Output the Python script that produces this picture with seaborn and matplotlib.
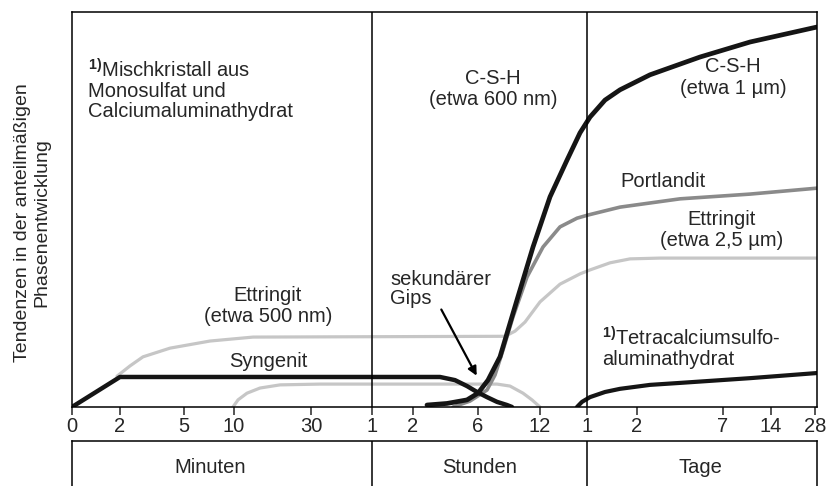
import matplotlib
matplotlib.use('Agg')
import matplotlib.pyplot as plt
import seaborn as sns

sns.set_style('white')
plt.rcParams['font.family'] = ['Liberation Sans', 'DejaVu Sans']
plt.rcParams['mathtext.fontset'] = 'custom'
plt.rcParams['mathtext.rm'] = 'Liberation Sans'
plt.rcParams['mathtext.bf'] = 'Liberation Sans:bold'

# x axis: position along the (piecewise log) time axis, y: relative amount
tick_pos = [0, 48, 112, 162, 239, 300, 341, 406, 468, 515, 565, 651, 699, 743]
tick_labels = ['0', '2', '5', '10', '30', '1', '2', '6', '12', '1', '2', '7', '14', '28']
dividers = [300, 515]
periods = ['Minuten', 'Stunden', 'Tage']
period_pos = [138, 408, 628]

syngenit_x = [0, 48, 368, 383, 395, 405, 415, 425, 435, 440]
syngenit_y = [0, 7.6, 7.6, 6.8, 5.3, 3.8, 2.5, 1.3, 0.5, 0]

ettringit_x = [45, 58, 71, 98, 138, 181, 433, 443, 453, 468, 488, 508, 518, 538, 558, 588, 745]
ettringit_y = [7.8, 10.4, 12.7, 14.9, 16.7, 17.7, 17.9, 19.2, 21.5, 26.6, 31.1, 33.7, 34.7, 36.5, 37.5, 37.7, 37.7]

mono_x = [161, 166, 175, 188, 208, 248, 425, 438, 451, 460, 468]
mono_y = [0, 1.8, 3.5, 4.8, 5.6, 5.8, 5.8, 5.3, 3.5, 1.8, 0]

csh_x = [355, 375, 395, 406, 416, 428, 445, 461, 478, 495, 508, 518, 533, 548, 578, 628, 678, 745]
csh_y = [0.5, 0.9, 1.8, 3.5, 6.8, 12.7, 27.1, 40.5, 53.2, 62.5, 69.4, 73.4, 77.7, 80.3, 84.1, 88.6, 92.4, 96.2]

portlandit_x = [381, 398, 415, 423, 431, 441, 455, 471, 488, 505, 516, 548, 608, 678, 745]
portlandit_y = [0, 1.5, 4.3, 8.1, 14.4, 22.8, 32.9, 40.5, 45.6, 47.8, 48.6, 50.6, 52.7, 53.9, 55.4]

tetra_x = [505, 510, 518, 533, 548, 578, 608, 678, 745]
tetra_y = [0, 1.3, 2.5, 3.8, 4.6, 5.6, 6.1, 7.3, 8.6]

fig = plt.figure(figsize=(8.27, 4.86), dpi=100)
ax = fig.add_axes([72 / 827, 79 / 486, 745 / 827, 395 / 486])

light = '#c6c6c6'
sns.lineplot(x=mono_x, y=mono_y, color=light, lw=2.3, ax=ax)
sns.lineplot(x=ettringit_x, y=ettringit_y, color=light, lw=2.3, ax=ax)
sns.lineplot(x=portlandit_x, y=portlandit_y, color='#8a8a8a', lw=2.6, ax=ax)
sns.lineplot(x=syngenit_x, y=syngenit_y, color='#151515', lw=3.2, ax=ax)
sns.lineplot(x=csh_x, y=csh_y, color='#151515', lw=3.4, ax=ax)
sns.lineplot(x=tetra_x, y=tetra_y, color='#151515', lw=3.0, ax=ax)

for d in dividers:
    ax.axvline(d, color='black', lw=1.1)

fs = 14.5
ax.set_xlim(0, 745)
ax.set_ylim(0, 100)
ax.set_xticks(tick_pos)
ax.set_xticklabels(tick_labels, fontsize=fs)
ax.set_yticks([])
ax.tick_params(axis='x', direction='out', length=6, width=1.1, pad=1.5, bottom=True)
for s in ax.spines.values():
    s.set_color('black')
    s.set_linewidth(1.1)
ax.set_ylabel('Tendenzen in der anteilmäßigen\nPhasenentwicklung', fontsize=14, linespacing=1.15)
ax.yaxis.set_label_coords(-0.029, 0.468)

sup = r'$^{\mathbf{1)}}$'
ax.text(16, 80.3, sup + 'Mischkristall aus\nMonosulfat und\nCalciumaluminathydrat',
        ha='left', va='center', fontsize=fs, linespacing=1.05)
ax.text(421, 80.5, 'C-S-H\n(etwa 600 nm)', ha='center', va='center', fontsize=fs, linespacing=1.15)
ax.text(661, 83.4, 'C-S-H\n(etwa 1 µm)', ha='center', va='center', fontsize=fs, linespacing=1.15)
ax.text(591, 57, 'Portlandit', ha='center', va='center', fontsize=fs)
ax.text(650, 44.8, 'Ettringit\n(etwa 2,5 µm)', ha='center', va='center', fontsize=fs, linespacing=1.15)
ax.text(530, 15.1, sup + 'Tetracalciumsulfo-\naluminathydrat', ha='left', va='center',
        fontsize=fs, linespacing=1.05)
ax.text(196, 25.6, 'Ettringit\n(etwa 500 nm)', ha='center', va='center', fontsize=fs, linespacing=1.1)
ax.text(196, 11.4, 'Syngenit', ha='center', va='center', fontsize=fs)
ax.text(318, 29.9, 'sekundärer\nGips', ha='left', va='center', fontsize=fs, linespacing=1.05)
ax.annotate('', xy=(406, 7.3), xytext=(368, 25.3),
            arrowprops=dict(arrowstyle='-|>', color='black', lw=1.6, mutation_scale=13))

# lower box with the time units
ax2 = fig.add_axes([72 / 827, -24 / 486, 745 / 827, 69 / 486])
ax2.set_xlim(0, 745)
ax2.set_ylim(0, 1)
ax2.set_xticks([])
ax2.set_yticks([])
for s in ax2.spines.values():
    s.set_color('black')
    s.set_linewidth(1.1)
for d in dividers:
    ax2.axvline(d, color='black', lw=1.1)
for p, name in zip(period_pos, periods):
    ax2.text(p, 0.62, name, ha='center', va='center', fontsize=fs)

fig.savefig('out.png', dpi=100, facecolor='white')
